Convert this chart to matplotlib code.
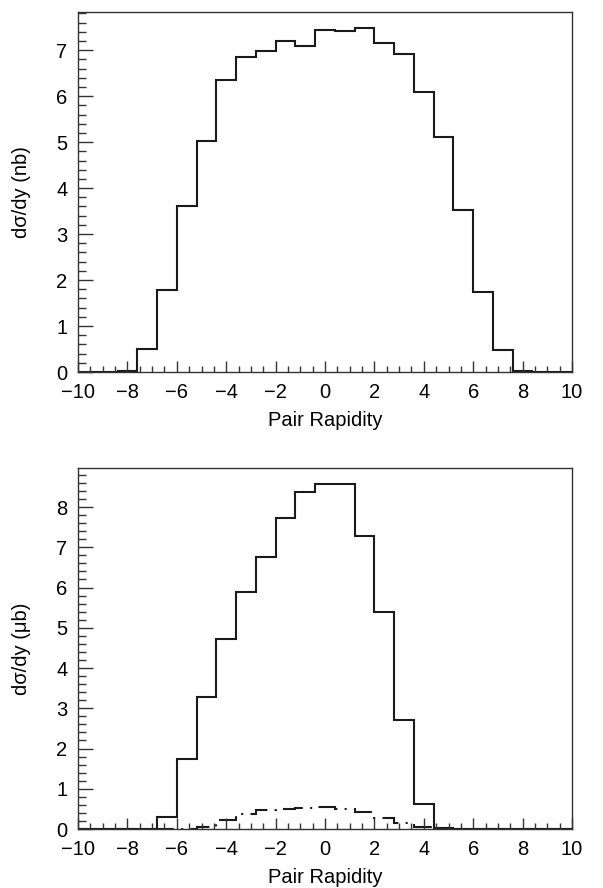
import numpy as np
import matplotlib
matplotlib.use("Agg")
import matplotlib.pyplot as plt
from matplotlib.ticker import MultipleLocator

plt.rcParams['font.family'] = ['Liberation Sans', 'DejaVu Sans']

# Bin edges: 25 bins of width 0.8 from -10 to 10
bin_edges = np.linspace(-10, 10, 26)

# Top panel: dsigma/dy (nb)
top_values = [0.0, 0.0, 0.03, 0.50, 1.78, 3.60, 5.03, 6.36, 6.86, 6.99, 7.19, 7.09,
              7.44, 7.41, 7.48, 7.15, 6.91, 6.10, 5.12, 3.52, 1.75, 0.48, 0.03, 0.0, 0.0]

# Bottom panel: dsigma/dy (microbarn), solid and dash-dot
bottom_solid = [0.0, 0.0, 0.0, 0.0, 0.29, 1.75, 3.27, 4.71, 5.88, 6.75, 7.72, 8.37,
                8.57, 8.57, 7.29, 5.40, 2.72, 0.62, 0.02, 0.0, 0.0, 0.0, 0.0, 0.0, 0.0]
bottom_dashdot = [0.0, 0.0, 0.0, 0.0, 0.0, 0.01, 0.04, 0.23, 0.38, 0.46, 0.50, 0.53,
                  0.54, 0.49, 0.42, 0.28, 0.15, 0.05, 0.01, 0.0, 0.0, 0.0, 0.0, 0.0, 0.0]

xlabel = "Pair Rapidity"
top_ylabel = "dσ/dy (nb)"
bottom_ylabel = "dσ/dy (μb)"

fig = plt.figure(figsize=(6.03, 8.88), dpi=100)
W, H = 603, 888
ax1 = fig.add_axes([78 / W, (H - 372) / H, 494 / W, 360 / H])
ax2 = fig.add_axes([78 / W, (H - 829) / H, 494 / W, 361 / H])

lw = 1.5
ax1.stairs(top_values, bin_edges, color='#1a1a1a', linewidth=lw)
ax2.stairs(bottom_solid, bin_edges, color='#1a1a1a', linewidth=lw)
ax2.stairs(bottom_dashdot, bin_edges, color='#1a1a1a', linewidth=lw,
           linestyle=(0, (10, 3.5, 1, 3.5)))

ax1.set_ylim(0, 7.83)
ax2.set_ylim(0, 8.97)

fs = 14.5
for ax, ylab in ((ax1, top_ylabel), (ax2, bottom_ylabel)):
    ax.set_xlim(-10, 10)
    ax.xaxis.set_major_locator(MultipleLocator(2))
    ax.xaxis.set_minor_locator(MultipleLocator(0.5))
    ax.yaxis.set_major_locator(MultipleLocator(1))
    ax.yaxis.set_minor_locator(MultipleLocator(0.2))
    ax.tick_params(which='both', direction='in', top=False, right=False,
                   labelsize=fs, color='#333333')
    ax.tick_params(axis='x', which='major', length=8, width=1, pad=8)
    ax.tick_params(axis='x', which='minor', length=4, width=1)
    ax.tick_params(axis='y', which='major', length=11, width=1, pad=7.5)
    ax.tick_params(axis='y', which='minor', length=5.5, width=1)
    for s in ax.spines.values():
        s.set_linewidth(1.0)
        s.set_color('#333333')
    ax.set_xlabel(xlabel, fontsize=fs, labelpad=6.5)
    ax.set_ylabel(ylab, fontsize=fs, labelpad=18)

fig.savefig("out.png", dpi=100)
